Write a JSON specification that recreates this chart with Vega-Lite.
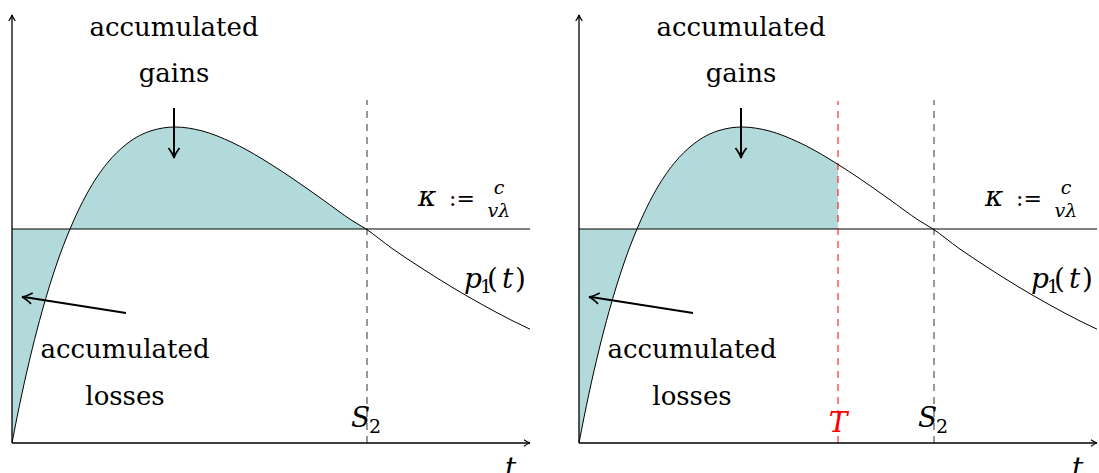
{
  "$schema": "https://vega.github.io/schema/vega-lite/v6.json",
  "padding": {"left": 0, "top": 0, "right": 2, "bottom": 30},
  "bounds": "flush",
  "spacing": 37,
  "config": {"view": {"stroke": null}},
  "datasets": {
    "curve": [
      {"t": 0, "y": 0}, {"t": 5, "y": 25.6}, {"t": 10, "y": 49.6}, {"t": 20, "y": 93.2},
      {"t": 30, "y": 131.5}, {"t": 45, "y": 180}, {"t": 58, "y": 214}, {"t": 75, "y": 249.5},
      {"t": 95, "y": 279.6}, {"t": 115, "y": 299.3}, {"t": 140, "y": 312.5}, {"t": 163, "y": 316},
      {"t": 190, "y": 312.1}, {"t": 220, "y": 300.6}, {"t": 250, "y": 284.2}, {"t": 259, "y": 278.6},
      {"t": 280, "y": 264.9}, {"t": 310, "y": 243.9}, {"t": 340, "y": 222.5}, {"t": 354, "y": 214},
      {"t": 380, "y": 194.6}, {"t": 410, "y": 174.6}, {"t": 440, "y": 155.8}, {"t": 470, "y": 138.5},
      {"t": 500, "y": 122.5}, {"t": 518, "y": 113.8}
    ],
    "shade": [
      {"panel": "both", "region": "loss", "t": 0, "y": 0, "y2": 214},
      {"panel": "both", "region": "loss", "t": 5, "y": 25.6, "y2": 214},
      {"panel": "both", "region": "loss", "t": 10, "y": 49.6, "y2": 214},
      {"panel": "both", "region": "loss", "t": 20, "y": 93.2, "y2": 214},
      {"panel": "both", "region": "loss", "t": 30, "y": 131.5, "y2": 214},
      {"panel": "both", "region": "loss", "t": 45, "y": 180, "y2": 214},
      {"panel": "both", "region": "loss", "t": 58, "y": 214, "y2": 214},
      {"panel": "L", "region": "gain", "t": 58, "y": 214, "y2": 214},
      {"panel": "L", "region": "gain", "t": 75, "y": 249.5, "y2": 214},
      {"panel": "L", "region": "gain", "t": 95, "y": 279.6, "y2": 214},
      {"panel": "L", "region": "gain", "t": 115, "y": 299.3, "y2": 214},
      {"panel": "L", "region": "gain", "t": 140, "y": 312.5, "y2": 214},
      {"panel": "L", "region": "gain", "t": 163, "y": 316, "y2": 214},
      {"panel": "L", "region": "gain", "t": 190, "y": 312.1, "y2": 214},
      {"panel": "L", "region": "gain", "t": 220, "y": 300.6, "y2": 214},
      {"panel": "L", "region": "gain", "t": 250, "y": 284.2, "y2": 214},
      {"panel": "L", "region": "gain", "t": 259, "y": 278.6, "y2": 214},
      {"panel": "L", "region": "gain", "t": 280, "y": 264.9, "y2": 214},
      {"panel": "L", "region": "gain", "t": 310, "y": 243.9, "y2": 214},
      {"panel": "L", "region": "gain", "t": 340, "y": 222.5, "y2": 214},
      {"panel": "L", "region": "gain", "t": 354, "y": 214, "y2": 214},
      {"panel": "R", "region": "gain", "t": 58, "y": 214, "y2": 214},
      {"panel": "R", "region": "gain", "t": 75, "y": 249.5, "y2": 214},
      {"panel": "R", "region": "gain", "t": 95, "y": 279.6, "y2": 214},
      {"panel": "R", "region": "gain", "t": 115, "y": 299.3, "y2": 214},
      {"panel": "R", "region": "gain", "t": 140, "y": 312.5, "y2": 214},
      {"panel": "R", "region": "gain", "t": 163, "y": 316, "y2": 214},
      {"panel": "R", "region": "gain", "t": 190, "y": 312.1, "y2": 214},
      {"panel": "R", "region": "gain", "t": 220, "y": 300.6, "y2": 214},
      {"panel": "R", "region": "gain", "t": 250, "y": 284.2, "y2": 214},
      {"panel": "R", "region": "gain", "t": 259, "y": 278.6, "y2": 214}
    ],
    "rules": [
      {"panel": "both", "kind": "axis", "t": 0, "t2": 0, "y": 0, "y2": 428},
      {"panel": "both", "kind": "axis", "t": 0, "t2": 518, "y": 0, "y2": 0},
      {"panel": "both", "kind": "kappa", "t": 0, "t2": 518, "y": 214, "y2": 214},
      {"panel": "both", "kind": "S2", "t": 355, "t2": 355, "y": 0, "y2": 343},
      {"panel": "R", "kind": "T", "t": 259, "t2": 259, "y": 0, "y2": 342},
      {"panel": "both", "kind": "arrow", "t": 162, "t2": 162, "y": 335, "y2": 287},
      {"panel": "both", "kind": "arrow", "t": 114, "t2": 12, "y": 130, "y2": 146}
    ],
    "heads": [
      {"panel": "both", "kind": "up", "t": 0, "y": 428},
      {"panel": "both", "kind": "right", "t": 518, "y": 0},
      {"panel": "both", "kind": "down", "t": 162, "y": 285},
      {"panel": "both", "kind": "leftTilt", "t": 10, "y": 146}
    ],
    "labels": [
      {"panel": "both", "kind": "word", "t": 162, "y": 407, "text": "accumulated"},
      {"panel": "both", "kind": "word", "t": 162, "y": 361, "text": "gains"},
      {"panel": "both", "kind": "word", "t": 113, "y": 85, "text": "accumulated"},
      {"panel": "both", "kind": "word", "t": 113, "y": 38, "text": "losses"},
      {"panel": "both", "kind": "greek", "t": 406, "y": 237, "text": "κ"},
      {"panel": "both", "kind": "punct", "t": 437, "y": 237, "text": ":="},
      {"panel": "both", "kind": "small", "t": 487, "y": 249, "text": "c"},
      {"panel": "both", "kind": "small", "t": 487, "y": 226, "text": "vλ"},
      {"panel": "both", "kind": "math", "t": 452, "y": 155, "text": "p"},
      {"panel": "both", "kind": "sub", "t": 468, "y": 150, "text": "1"},
      {"panel": "both", "kind": "paren", "t": 475, "y": 155, "text": "("},
      {"panel": "both", "kind": "math", "t": 490, "y": 155, "text": "t"},
      {"panel": "both", "kind": "paren", "t": 503, "y": 155, "text": ")"},
      {"panel": "both", "kind": "math", "t": 339, "y": 16, "text": "S"},
      {"panel": "both", "kind": "sub", "t": 357, "y": 10, "text": "2"},
      {"panel": "both", "kind": "math", "t": 493, "y": -34, "text": "t"},
      {"panel": "R", "kind": "red", "t": 259, "y": 11, "text": "T"}
    ]
  },
  "hconcat": [
    {
      "width": 530,
      "height": 443,
      "encoding": {
        "x": {"field": "t", "type": "quantitative", "scale": {"domain": [-12, 518], "nice": false, "zero": false}, "axis": null},
        "y": {"field": "y", "type": "quantitative", "scale": {"domain": [0, 443], "nice": false, "zero": false}, "axis": null}
      },
      "layer": [
        {"data": {"name": "shade"}, "transform": [{"filter": "datum.panel !== 'R'"}],
         "mark": {"type": "area", "interpolate": "monotone", "color": "#b3dada", "opacity": 1},
         "encoding": {"y2": {"field": "y2"}, "detail": {"field": "region"}}},
        {"data": {"name": "rules"}, "transform": [{"filter": "datum.panel !== 'R' && datum.kind === 'kappa'"}],
         "mark": {"type": "rule", "color": "#000000", "strokeWidth": 1.2},
         "encoding": {"x2": {"field": "t2"}, "y2": {"field": "y2"}}},
        {"data": {"name": "rules"}, "transform": [{"filter": "datum.panel !== 'R' && datum.kind === 'S2'"}],
         "mark": {"type": "rule", "color": "#333333", "strokeWidth": 1, "strokeDash": [7, 6]},
         "encoding": {"x2": {"field": "t2"}, "y2": {"field": "y2"}}},
        {"data": {"name": "curve"},
         "mark": {"type": "line", "interpolate": "monotone", "color": "#000000", "strokeWidth": 1},
         "encoding": {}},
        {"data": {"name": "rules"}, "transform": [{"filter": "datum.panel !== 'R' && datum.kind === 'axis'"}],
         "mark": {"type": "rule", "color": "#000000", "strokeWidth": 1.3},
         "encoding": {"x2": {"field": "t2"}, "y2": {"field": "y2"}}},
        {"data": {"name": "rules"}, "transform": [{"filter": "datum.panel !== 'R' && datum.kind === 'arrow'"}],
         "mark": {"type": "rule", "color": "#000000", "strokeWidth": 2},
         "encoding": {"x2": {"field": "t2"}, "y2": {"field": "y2"}}},
        {"data": {"name": "heads"}, "transform": [{"filter": "datum.kind === 'up'"}],
         "mark": {"type": "point", "shape": "M-1,-0.55Q-0.4,-0.1,0,0Q-0.4,0.1,-1,0.55", "filled": false, "stroke": "#000000", "strokeWidth": 1.2, "size": 144, "angle": 270, "opacity": 1}},
        {"data": {"name": "heads"}, "transform": [{"filter": "datum.kind === 'right'"}],
         "mark": {"type": "point", "shape": "M-1,-0.55Q-0.4,-0.1,0,0Q-0.4,0.1,-1,0.55", "filled": false, "stroke": "#000000", "strokeWidth": 1.2, "size": 144, "angle": 0, "opacity": 1}},
        {"data": {"name": "heads"}, "transform": [{"filter": "datum.kind === 'down'"}],
         "mark": {"type": "point", "shape": "M-1,-0.55Q-0.4,-0.1,0,0Q-0.4,0.1,-1,0.55", "filled": false, "stroke": "#000000", "strokeWidth": 1.8, "size": 400, "angle": 90, "opacity": 1}},
        {"data": {"name": "heads"}, "transform": [{"filter": "datum.kind === 'leftTilt'"}],
         "mark": {"type": "point", "shape": "M-1,-0.55Q-0.4,-0.1,0,0Q-0.4,0.1,-1,0.55", "filled": false, "stroke": "#000000", "strokeWidth": 1.8, "size": 400, "angle": 188.7, "opacity": 1}},
        {"data": {"name": "labels"}, "transform": [{"filter": "datum.panel !== 'R' && datum.kind === 'word'"}],
         "mark": {"type": "text", "font": "DejaVu Serif", "fontSize": 26, "align": "center", "baseline": "alphabetic"},
         "encoding": {"text": {"field": "text"}}},
        {"data": {"name": "labels"}, "transform": [{"filter": "datum.panel !== 'R' && datum.kind === 'math'"}],
         "mark": {"type": "text", "font": "DejaVu Serif", "fontSize": 28, "fontStyle": "italic", "align": "left", "baseline": "alphabetic"},
         "encoding": {"text": {"field": "text"}}},
        {"data": {"name": "labels"}, "transform": [{"filter": "datum.panel !== 'R' && datum.kind === 'greek'"}],
         "mark": {"type": "text", "font": "DejaVu Serif", "fontSize": 28, "fontStyle": "italic", "fontWeight": 300, "align": "left", "baseline": "alphabetic"},
         "encoding": {"text": {"field": "text"}}},
        {"data": {"name": "labels"}, "transform": [{"filter": "datum.panel !== 'R' && datum.kind === 'punct'"}],
         "mark": {"type": "text", "font": "DejaVu Serif", "fontSize": 22, "align": "left", "baseline": "alphabetic"},
         "encoding": {"text": {"field": "text"}}},
        {"data": {"name": "labels"}, "transform": [{"filter": "datum.panel !== 'R' && datum.kind === 'paren'"}],
         "mark": {"type": "text", "font": "DejaVu Serif", "fontSize": 28, "align": "left", "baseline": "alphabetic"},
         "encoding": {"text": {"field": "text"}}},
        {"data": {"name": "labels"}, "transform": [{"filter": "datum.panel !== 'R' && datum.kind === 'small'"}],
         "mark": {"type": "text", "font": "DejaVu Serif", "fontSize": 19, "fontStyle": "italic", "align": "center", "baseline": "alphabetic"},
         "encoding": {"text": {"field": "text"}}},
        {"data": {"name": "labels"}, "transform": [{"filter": "datum.panel !== 'R' && datum.kind === 'sub'"}],
         "mark": {"type": "text", "font": "DejaVu Serif", "fontSize": 19, "align": "left", "baseline": "alphabetic"},
         "encoding": {"text": {"field": "text"}}}
      ]
    },
    {
      "width": 530,
      "height": 443,
      "encoding": {
        "x": {"field": "t", "type": "quantitative", "scale": {"domain": [-12, 518], "nice": false, "zero": false}, "axis": null},
        "y": {"field": "y", "type": "quantitative", "scale": {"domain": [0, 443], "nice": false, "zero": false}, "axis": null}
      },
      "layer": [
        {"data": {"name": "shade"}, "transform": [{"filter": "datum.panel !== 'L'"}],
         "mark": {"type": "area", "interpolate": "monotone", "color": "#b3dada", "opacity": 1},
         "encoding": {"y2": {"field": "y2"}, "detail": {"field": "region"}}},
        {"data": {"name": "rules"}, "transform": [{"filter": "datum.panel !== 'L' && datum.kind === 'kappa'"}],
         "mark": {"type": "rule", "color": "#000000", "strokeWidth": 1.2},
         "encoding": {"x2": {"field": "t2"}, "y2": {"field": "y2"}}},
        {"data": {"name": "rules"}, "transform": [{"filter": "datum.panel !== 'L' && datum.kind === 'S2'"}],
         "mark": {"type": "rule", "color": "#333333", "strokeWidth": 1, "strokeDash": [7, 6]},
         "encoding": {"x2": {"field": "t2"}, "y2": {"field": "y2"}}},
        {"data": {"name": "rules"}, "transform": [{"filter": "datum.panel !== 'L' && datum.kind === 'T'"}],
         "mark": {"type": "rule", "color": "#ff0000", "strokeWidth": 1, "strokeDash": [7, 6]},
         "encoding": {"x2": {"field": "t2"}, "y2": {"field": "y2"}}},
        {"data": {"name": "curve"},
         "mark": {"type": "line", "interpolate": "monotone", "color": "#000000", "strokeWidth": 1},
         "encoding": {}},
        {"data": {"name": "rules"}, "transform": [{"filter": "datum.panel !== 'L' && datum.kind === 'axis'"}],
         "mark": {"type": "rule", "color": "#000000", "strokeWidth": 1.3},
         "encoding": {"x2": {"field": "t2"}, "y2": {"field": "y2"}}},
        {"data": {"name": "rules"}, "transform": [{"filter": "datum.panel !== 'L' && datum.kind === 'arrow'"}],
         "mark": {"type": "rule", "color": "#000000", "strokeWidth": 2},
         "encoding": {"x2": {"field": "t2"}, "y2": {"field": "y2"}}},
        {"data": {"name": "heads"}, "transform": [{"filter": "datum.kind === 'up'"}],
         "mark": {"type": "point", "shape": "M-1,-0.55Q-0.4,-0.1,0,0Q-0.4,0.1,-1,0.55", "filled": false, "stroke": "#000000", "strokeWidth": 1.2, "size": 144, "angle": 270, "opacity": 1}},
        {"data": {"name": "heads"}, "transform": [{"filter": "datum.kind === 'right'"}],
         "mark": {"type": "point", "shape": "M-1,-0.55Q-0.4,-0.1,0,0Q-0.4,0.1,-1,0.55", "filled": false, "stroke": "#000000", "strokeWidth": 1.2, "size": 144, "angle": 0, "opacity": 1}},
        {"data": {"name": "heads"}, "transform": [{"filter": "datum.kind === 'down'"}],
         "mark": {"type": "point", "shape": "M-1,-0.55Q-0.4,-0.1,0,0Q-0.4,0.1,-1,0.55", "filled": false, "stroke": "#000000", "strokeWidth": 1.8, "size": 400, "angle": 90, "opacity": 1}},
        {"data": {"name": "heads"}, "transform": [{"filter": "datum.kind === 'leftTilt'"}],
         "mark": {"type": "point", "shape": "M-1,-0.55Q-0.4,-0.1,0,0Q-0.4,0.1,-1,0.55", "filled": false, "stroke": "#000000", "strokeWidth": 1.8, "size": 400, "angle": 188.7, "opacity": 1}},
        {"data": {"name": "labels"}, "transform": [{"filter": "datum.panel !== 'L' && datum.kind === 'word'"}],
         "mark": {"type": "text", "font": "DejaVu Serif", "fontSize": 26, "align": "center", "baseline": "alphabetic"},
         "encoding": {"text": {"field": "text"}}},
        {"data": {"name": "labels"}, "transform": [{"filter": "datum.panel !== 'L' && datum.kind === 'math'"}],
         "mark": {"type": "text", "font": "DejaVu Serif", "fontSize": 28, "fontStyle": "italic", "align": "left", "baseline": "alphabetic"},
         "encoding": {"text": {"field": "text"}}},
        {"data": {"name": "labels"}, "transform": [{"filter": "datum.panel !== 'L' && datum.kind === 'greek'"}],
         "mark": {"type": "text", "font": "DejaVu Serif", "fontSize": 28, "fontStyle": "italic", "fontWeight": 300, "align": "left", "baseline": "alphabetic"},
         "encoding": {"text": {"field": "text"}}},
        {"data": {"name": "labels"}, "transform": [{"filter": "datum.panel !== 'L' && datum.kind === 'punct'"}],
         "mark": {"type": "text", "font": "DejaVu Serif", "fontSize": 22, "align": "left", "baseline": "alphabetic"},
         "encoding": {"text": {"field": "text"}}},
        {"data": {"name": "labels"}, "transform": [{"filter": "datum.panel !== 'L' && datum.kind === 'paren'"}],
         "mark": {"type": "text", "font": "DejaVu Serif", "fontSize": 28, "align": "left", "baseline": "alphabetic"},
         "encoding": {"text": {"field": "text"}}},
        {"data": {"name": "labels"}, "transform": [{"filter": "datum.panel !== 'L' && datum.kind === 'small'"}],
         "mark": {"type": "text", "font": "DejaVu Serif", "fontSize": 19, "fontStyle": "italic", "align": "center", "baseline": "alphabetic"},
         "encoding": {"text": {"field": "text"}}},
        {"data": {"name": "labels"}, "transform": [{"filter": "datum.panel !== 'L' && datum.kind === 'sub'"}],
         "mark": {"type": "text", "font": "DejaVu Serif", "fontSize": 19, "align": "left", "baseline": "alphabetic"},
         "encoding": {"text": {"field": "text"}}},
        {"data": {"name": "labels"}, "transform": [{"filter": "datum.panel !== 'L' && datum.kind === 'red'"}],
         "mark": {"type": "text", "font": "DejaVu Serif", "fontSize": 28, "fontStyle": "italic", "align": "center", "baseline": "alphabetic", "fill": "#ff0000"},
         "encoding": {"text": {"field": "text"}}}
      ]
    }
  ]
}
